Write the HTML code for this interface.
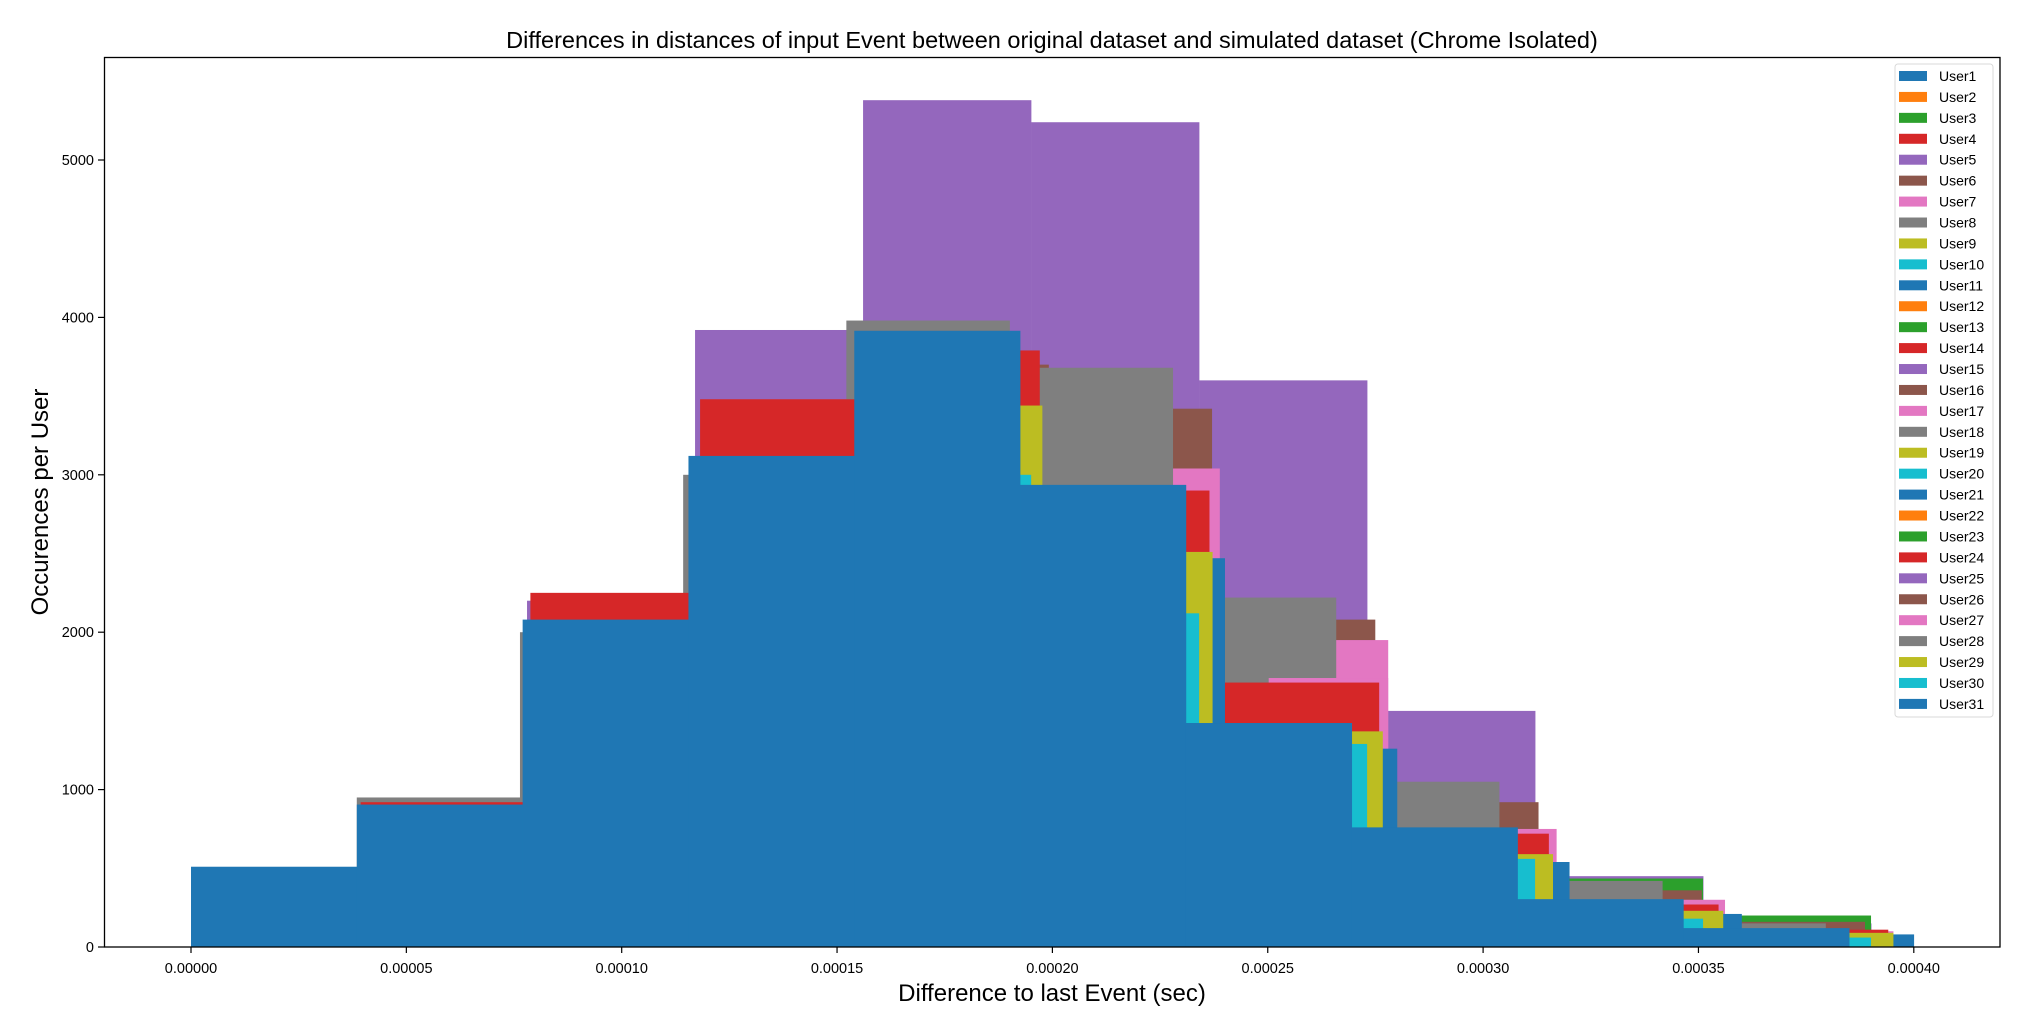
<!DOCTYPE html>
<html><head><meta charset="utf-8">
<style>
html,body{margin:0;padding:0;background:#fff;}
svg{display:block;font-family:"Liberation Sans","DejaVu Sans",sans-serif;}
</style></head>
<body>
<svg id="chart" width="2030" height="1030" viewBox="0 0 2030 1030" xmlns="http://www.w3.org/2000/svg">
<rect x="0" y="0" width="2030" height="1030" fill="#fff"/>
<text x="1052" y="48" font-size="23.5" text-anchor="middle" fill="#000">Differences in distances of input Event between original dataset and simulated dataset (Chrome Isolated)</text>
<g id="bars"></g>
<rect x="104.5" y="57.5" width="1895.5" height="889.5" fill="none" stroke="#000" stroke-width="1.3"/>
<g id="xticks"></g>
<g id="yticks"></g>
<text x="1052" y="1001" font-size="24" text-anchor="middle" fill="#000">Difference to last Event (sec)</text>
<text x="0" y="0" font-size="24" text-anchor="middle" fill="#000" transform="translate(48,502) rotate(-90)">Occurences per User</text>
<g id="legend"></g>
</svg>
<script>
// ---- data ----
const userNames = ["User5","User3","User16","User17","User8","User27","User24","User21","User29","User30","User31"];
const userColors = ["#9467bd","#2ca02c","#8c564b","#e377c2","#7f7f7f","#e377c2","#d62728","#1f77b4","#bcbd22","#17becf","#1f77b4"];
const binMin = [0, 0, 0.0000096, 0.0000042, 0.0000006, 0.0000842, 0, 0, 0, 0, 0];
const binMax = [0.0003901, 0.00039, 0.0003886, 0.0003952, 0.0003795, 0.0003609, 0.000394, 0.0004, 0.0003952, 0.00039, 0.000385];
const counts5  = [300,900,2200,3920,5380,5240,3600,1500,450,150];
const counts3  = [400,850,1900,3000,3500,2500,1300,600,435,200];
const counts16 = [450,850,2200,3450,3700,3420,2080,920,360,160];
const counts17 = [500,850,2200,3100,3500,3040,1950,750,300,100];
const counts8  = [400,950,2000,3000,3980,3680,2220,1050,420,150];
const counts27 = [1500,2000,2500,2500,2500,1300,1709,700,300,100];
const counts24 = [450,920,2250,3480,3790,2900,1680,720,270,110];
const counts21 = [480,850,2000,3000,2900,2470,1260,540,210,80];
const counts29 = [450,850,2000,3000,3440,2510,1370,590,230,90];
const counts30 = [500,900,2050,3050,3000,2120,1290,560,180,60];
const counts31 = [510,905,2080,3120,3915,2936,1423,760,304,120];
const seriesCounts = [counts5,counts3,counts16,counts17,counts8,counts27,counts24,counts21,counts29,counts30,counts31];
const xTicks = [0,0.00005,0.0001,0.00015,0.0002,0.00025,0.0003,0.00035,0.0004];
const xTickLabels = ["0.00000","0.00005","0.00010","0.00015","0.00020","0.00025","0.00030","0.00035","0.00040"];
const yTicks = [0,1000,2000,3000,4000,5000];
const legendNames = [];
for (let i = 1; i <= 31; i++) legendNames.push("User" + i);
const tab10 = ["#1f77b4","#ff7f0e","#2ca02c","#d62728","#9467bd","#8c564b","#e377c2","#7f7f7f","#bcbd22","#17becf"];

// ---- axes ----
const X0 = 191, XPER = 215.35 / 0.00005;
const Y0 = 947, YPER = 157.4 / 1000;
function xs(v){ return X0 + v * XPER; }
function ys(v){ return Y0 - v * YPER; }
const NS = "http://www.w3.org/2000/svg";

const gb = document.getElementById("bars");
seriesCounts.forEach((cs, si) => {
  const g = document.createElementNS(NS, "g");
  
  
  const w = (binMax[si] - binMin[si]) / cs.length;
  cs.forEach((c, bi) => {
    const a = binMin[si] + bi * w, b = a + w;
    const r = document.createElementNS(NS, "rect");
    
    
    r.setAttribute("x", xs(a));
    r.setAttribute("width", xs(b) - xs(a) + 0.3);
    r.setAttribute("y", ys(c));
    r.setAttribute("height", ys(0) - ys(c));
    r.setAttribute("fill", userColors[si]);
    g.appendChild(r);
  });
  gb.appendChild(g);
});

const gx = document.getElementById("xticks");
xTicks.forEach((t, i) => {
  const l = document.createElementNS(NS, "line");
  
  
  l.setAttribute("x1", xs(t)); l.setAttribute("x2", xs(t));
  l.setAttribute("y1", 947); l.setAttribute("y2", 953);
  l.setAttribute("stroke", "#000"); l.setAttribute("stroke-width", "1.2");
  gx.appendChild(l);
  const tx = document.createElementNS(NS, "text");
  
  
  tx.setAttribute("x", xs(t)); tx.setAttribute("y", 973);
  tx.setAttribute("font-size", "14.5"); tx.setAttribute("text-anchor", "middle");
  tx.textContent = xTickLabels[i];
  gx.appendChild(tx);
});
const gy = document.getElementById("yticks");
yTicks.forEach(t => {
  const l = document.createElementNS(NS, "line");
  
  
  l.setAttribute("x1", 98); l.setAttribute("x2", 104.5);
  l.setAttribute("y1", ys(t)); l.setAttribute("y2", ys(t));
  l.setAttribute("stroke", "#000"); l.setAttribute("stroke-width", "1.2");
  gy.appendChild(l);
  const tx = document.createElementNS(NS, "text");
  
  
  tx.setAttribute("x", 94); tx.setAttribute("y", ys(t) + 5);
  tx.setAttribute("font-size", "14.5"); tx.setAttribute("text-anchor", "end");
  tx.textContent = String(t);
  gy.appendChild(tx);
});

const gl = document.getElementById("legend");
const box = document.createElementNS(NS, "rect");


box.setAttribute("x", 1895); box.setAttribute("y", 64); box.setAttribute("width", 98); box.setAttribute("height", 653);
box.setAttribute("rx", 3); box.setAttribute("fill", "#fff"); box.setAttribute("stroke", "#d9d9d9");
gl.appendChild(box);
legendNames.forEach((n, i) => {
  const cy = 76 + i * 20.93;
  const p = document.createElementNS(NS, "rect");
  
  
  p.setAttribute("x", 1899); p.setAttribute("y", cy - 5); p.setAttribute("width", 28); p.setAttribute("height", 10);
  p.setAttribute("fill", tab10[i % 10]);
  gl.appendChild(p);
  const t = document.createElementNS(NS, "text");
  
  
  t.setAttribute("x", 1939); t.setAttribute("y", cy + 5);
  t.setAttribute("font-size", "14");
  t.textContent = n;
  gl.appendChild(t);
});
</script>
</body></html>
